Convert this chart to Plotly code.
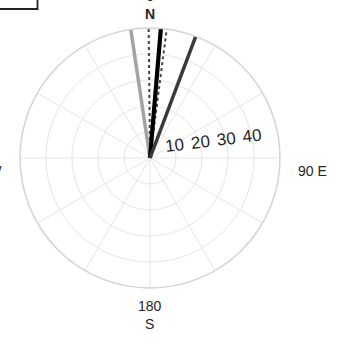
import plotly.graph_objects as go
import numpy as np

# --- data ---
dir_gray = [351.5]
len_gray = [50.0]
dir_black = [4.8]
len_black = [50.3]
dir_dark = [20.6]
len_dark = [50.8]
wedge_lo = -0.6
wedge_hi = 7.4
wedge_len = 50.8
angle_ticks = [0, 30, 60, 90, 120, 150, 180, 210, 240, 270, 300, 330]
compass_labels = ["0<br><b>N</b>", "90 E", "180<br>S", "270 W"]
r_ticks = [10, 20, 30, 40]
r_max = 50

FONT = "Liberation Sans, Arial, sans-serif"
W, H = 340, 344
L, R, T, B = 20, 60, 28, 56
PW, PH = W - L - R, H - T - B

def px(x):
    return (x - L) / PW

def py(y):
    return (H - B - y) / PH

fig = go.Figure()

# dotted wedge outline
arc = list(np.linspace(wedge_lo, wedge_hi, 12))
w_theta = [wedge_lo] + arc + [wedge_hi]
w_r = [0] + [wedge_len] * len(arc) + [0]
fig.add_trace(go.Scatterpolar(theta=w_theta, r=w_r, mode="lines", cliponaxis=False,
                              line=dict(color="#444444", width=2, dash="dot"),
                              showlegend=False))

def ray(th, rr, color, width):
    fig.add_trace(go.Scatterpolar(theta=[th[0], th[0]], r=[0, rr[0]], mode="lines",
                                  cliponaxis=False,
                                  line=dict(color=color, width=width), showlegend=False))

ray(dir_gray, len_gray, "#a3a3a3", 3.5)
ray(dir_black, len_black, "#000000", 4.2)
ray(dir_dark, len_dark, "#3a3a3a", 3.5)

lab_font = dict(size=14, family=FONT, color="#262626")
annotations = [
    dict(text=compass_labels[0], x=px(150), y=py(23), xanchor="center", yanchor="bottom"),
    dict(text=compass_labels[1], x=px(297), y=py(171), xanchor="left", yanchor="middle"),
    dict(text=compass_labels[2], x=px(150), y=py(297), xanchor="center", yanchor="top"),
    dict(text=compass_labels[3], x=px(3), y=py(171), xanchor="right", yanchor="middle"),
]
for a in annotations:
    a.update(xref="paper", yref="paper", showarrow=False, font=lab_font, borderpad=0)

fig.update_layout(
    width=W, height=H,
    margin=dict(l=L, r=R, t=T, b=B, autoexpand=False),
    paper_bgcolor="white",
    showlegend=False,
    font=dict(family=FONT, color="#262626"),
    polar=dict(
        domain=dict(x=[0, 1], y=[0, 1]),
        bgcolor="white",
        angularaxis=dict(rotation=90, direction="clockwise",
                         tickmode="array", tickvals=angle_ticks,
                         ticktext=[""] * len(angle_ticks),
                         showgrid=True, gridcolor="#e6e6e6", gridwidth=1,
                         showline=True, linecolor="#d4d4d4", linewidth=1.5,
                         ticks=""),
        radialaxis=dict(range=[0, r_max], tickmode="array", tickvals=r_ticks,
                        ticktext=[str(v) for v in r_ticks],
                        angle=7, tickangle=0, side="counterclockwise",
                        showline=False, ticks="",
                        showgrid=True, gridcolor="#e6e6e6", gridwidth=1,
                        tickfont=dict(size=17, family=FONT, color="#262626")),
    ),
    annotations=annotations,
    shapes=[dict(type="rect", xref="paper", yref="paper",
                 x0=px(-40), x1=px(37.5), y0=py(9), y1=py(-40),
                 line=dict(color="#222222", width=1.8), fillcolor="rgba(0,0,0,0)")],
)

fig.write_html("out.html", config={"displayModeBar": False},
               post_script="document.body.style.margin='0';document.body.style.overflow='hidden';")
